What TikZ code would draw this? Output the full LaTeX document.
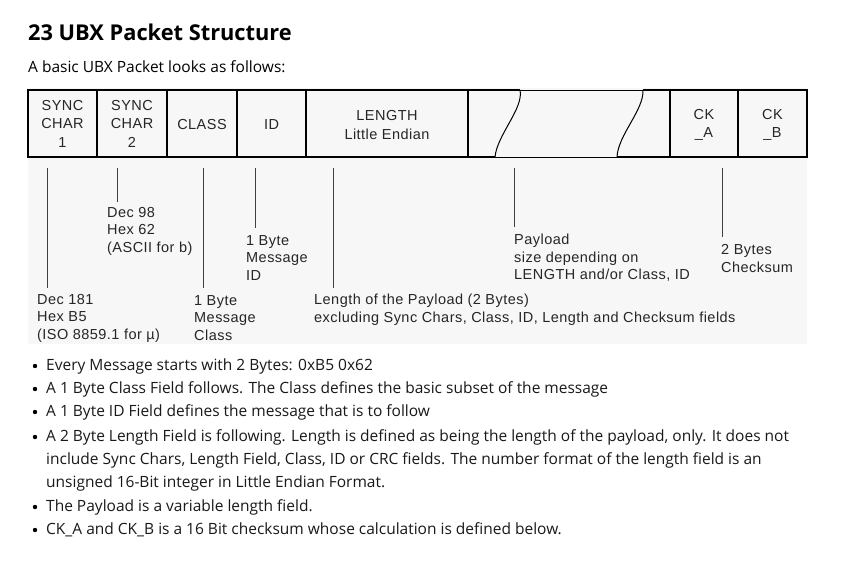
\documentclass[tikz,border=0pt]{standalone}
\usepackage{fontspec}
\setmainfont{Open Sans}
\newfontfamily\diag[LetterSpace=3.2]{Liberation Sans}
\begin{document}
\begin{tikzpicture}[x=1pt,y=-1pt,
  field/.style={draw=black,line width=2pt},
  lbl/.style={font=\diag\fontsize{14.5}{17.5}\selectfont,text=black!85,inner sep=0pt,align=left,anchor=west},
  blbl/.style={font=\diag\fontsize{14.5}{18.5}\selectfont,text=black!85,inner sep=0pt,align=center},
  pin/.style={draw=black!75,line width=0.9pt},
  bul/.style={font=\fontsize{15.5}{18}\selectfont,inner sep=0pt,anchor=west,text=black!90}]
\useasboundingbox (0,0) rectangle (858,562);
\fill[white] (0,0) rectangle (858,562);
\fill[black!3] (28,88) rectangle (807,344);
% title
\node[font=\bfseries\fontsize{21.8}{24}\selectfont,anchor=west,inner sep=0pt] (title) at (28,32) {23 UBX Packet Structure};
\node[font=\fontsize{15.5}{18}\selectfont,anchor=west,inner sep=0pt] (sub) at (28,67) {A basic UBX Packet looks as follows:};
% fields
\draw[field] (28,90) rectangle (97,157); \node[blbl] (sc1) at (62.5,123.5) {SYNC\\CHAR\\1};
\draw[field] (97,90) rectangle (167,157); \node[blbl] (sc2) at (132,123.5) {SYNC\\CHAR\\2};
\draw[field] (167,90) rectangle (237,157); \node[blbl] (cls) at (202,125) {CLASS};
\draw[field] (237,90) rectangle (306,157); \node[blbl] (id) at (271.5,125) {ID};
\draw[field] (306,90) rectangle (468,157); \node[blbl] (len) at (387,125) {LENGTH\\Little Endian};
\draw[field,line join=miter] (520,90) -- (468,90) -- (468,157) -- (495,157);
\draw[black,line width=1pt] (520,90) .. controls (524,108) and (497,135) .. (495,157);
\draw[black,line width=1pt] (520,90) -- (643,90);
\draw[black,line width=1pt] (495,157) -- (617,157);
\draw[field,line join=miter] (643,90) -- (670,90) -- (670,157) -- (617,157);
\draw[black,line width=1pt] (643,90) .. controls (644,110) and (618,135) .. (617,157);
\draw[field] (670,90) rectangle (738,157); \node[blbl] (cka) at (704,125) {CK\\\_A};
\draw[field] (738,90) rectangle (807,157); \node[blbl] (ckb) at (772.5,125) {CK\\\_B};
% pins
\coordinate (p1) at (47,168); \coordinate (q1) at (47,288);
\coordinate (p2) at (117,168); \coordinate (q2) at (117,202);
\coordinate (p3) at (203,168); \coordinate (q3) at (203,288);
\coordinate (p4) at (255,168); \coordinate (q4) at (255,228);
\coordinate (p5) at (333,168); \coordinate (q5) at (333,288);
\coordinate (p6) at (514,168); \coordinate (q6) at (514,227);
\coordinate (p7) at (722,168); \coordinate (q7) at (722,237);
\foreach \i in {1,...,7} {\draw[pin] (p\i) -- (q\i);}
% descriptions
\node[lbl] (d2) at (107,231) {Dec 98\\Hex 62\\(ASCII for b)};
\node[lbl] (d4) at (246,258) {1 Byte\\Message\\ID};
\node[lbl] (d1) at (37,318) {Dec 181\\Hex B5\\(ISO 8859.1 for µ)};
\node[lbl] (d3) at (194,318) {1 Byte\\Message\\Class};
\node[lbl] (d5) at (314,309.5) {Length of the Payload (2 Bytes)\\excluding Sync Chars, Class, ID, Length and Checksum fields};
\node[lbl] (d6) at (514,258) {Payload\\size depending on\\LENGTH and/or Class, ID};
\node[lbl] (d7) at (721,258.5) {2 Bytes\\Checksum};
% bullets
\foreach \y/\t [count=\k] in {366/{Every Message starts with 2 Bytes: 0xB5 0x62},
  389/{A 1 Byte Class Field follows. The Class defines the basic subset of the message},
  412/{A 1 Byte ID Field defines the message that is to follow},
  437/{A 2 Byte Length Field is following. Length is defined as being the length of the payload, only. It does not},
  507/{The Payload is a variable length field.},
  530/{CK\_A and CK\_B is a 16 Bit checksum whose calculation is defined below.}}
  {\fill (35,\y) circle (2.2); \node[bul] (b\k) at (46,\y) {\t};}
\node[bul] (b4b) at (46,460) {include Sync Chars, Length Field, Class, ID or CRC fields. The number format of the length field is an};
\node[bul] (b4c) at (46,483) {unsigned 16-Bit integer in Little Endian Format.};
\end{tikzpicture}
\end{document}
